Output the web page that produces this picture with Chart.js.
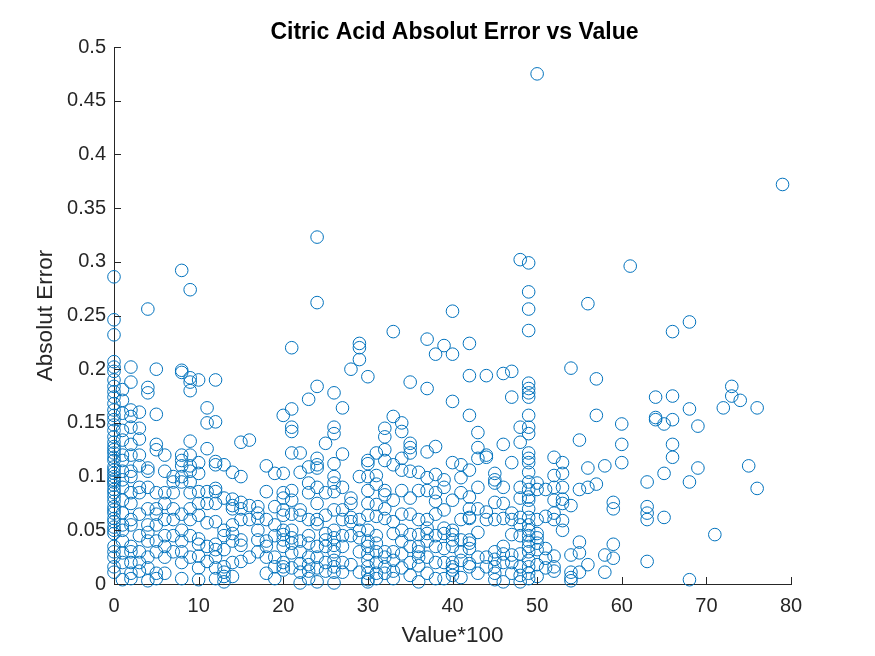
<!DOCTYPE html>
<html>
<head>
<meta charset="utf-8">
<title>Citric Acid Absolut Error vs Value</title>
<script src="https://cdn.jsdelivr.net/npm/chart.js@4/dist/chart.umd.min.js"></script>
<style>
    html, body { margin: 0; padding: 0; background: #fff; }
    canvas { display: block; }
</style>
</head>
<body>
<canvas id="chart" width="875" height="656"></canvas>
<script>
// ── Data ──────────────────────────────────────────────────────────────────────
const valueX = [0,1,2,3,4,5,6,7,8,9,10,11,12,13,14,15,16,17,18,19,20,21,22,23,24,25,26,27,28,29,
    30,31,32,33,34,35,36,37,38,39,40,41,42,43,44,45,46,47,48,49,50,51,52,53,54,55,56,57,58,59,60,61,
    63,64,65,66,68,69,71,72,73,74,75,76,79];

const absError = [
    [0.286,0.246,0.232,0.207,0.202,0.198,0.19,0.184,0.179,0.174,0.168,0.162,0.157,0.153,0.148,0.143,0.137,0.132,0.128,0.125,0.122,0.118,0.115,0.109,0.106,0.103,0.1,0.097,0.095,0.092,0.088,0.085,0.081,0.077,0.072,0.069,0.066,0.061,0.058,0.053,0.05,0.047,0.035,0.03,0.025,0.016,0.011],
    [0.181,0.171,0.159,0.143,0.134,0.12,0.115,0.105,0.097,0.09,0.078,0.066,0.055,0.05,0.04,0.029,0.02,0.004],
    [0.202,0.188,0.162,0.156,0.146,0.13,0.12,0.105,0.1,0.085,0.075,0.06,0.055,0.035,0.03,0.02,0.01,0.005],
    [0.16,0.145,0.135,0.12,0.11,0.09,0.085,0.065,0.045,0.03,0.02,0.012],
    [0.256,0.183,0.178,0.108,0.105,0.09,0.07,0.055,0.048,0.04,0.025,0.015,0.003],
    [0.2,0.158,0.13,0.125,0.085,0.07,0.065,0.055,0.04,0.03,0.01,0.005],
    [0.12,0.105,0.085,0.075,0.06,0.045,0.035,0.025,0.01],
    [0.1,0.095,0.085,0.07,0.06,0.045,0.03],
    [0.292,0.199,0.197,0.12,0.115,0.11,0.1,0.095,0.065,0.05,0.04,0.03,0.02,0.005],
    [0.274,0.192,0.188,0.18,0.133,0.12,0.11,0.105,0.095,0.085,0.07,0.06,0.045,0.025],
    [0.19,0.113,0.103,0.086,0.075,0.064,0.042,0.037,0.026,0.015,0.004],
    [0.164,0.15,0.126,0.086,0.075,0.057,0.035,0.021],
    [0.19,0.151,0.114,0.111,0.089,0.086,0.075,0.058,0.037,0.032,0.025,0.015,0.005],
    [0.111,0.08,0.05,0.045,0.032,0.016,0.011,0.007,0.002],
    [0.104,0.079,0.073,0.07,0.055,0.047,0.04,0.02,0.007],
    [0.132,0.1,0.076,0.07,0.06,0.041,0.036,0.021],
    [0.134,0.073,0.06,0.025],
    [0.072,0.066,0.061,0.05,0.041,0.03],
    [0.11,0.086,0.06,0.04,0.035,0.025,0.01],
    [0.103,0.072,0.055,0.045,0.025,0.016,0.005],
    [0.157,0.103,0.085,0.08,0.069,0.064,0.05,0.046,0.041,0.035,0.02,0.016,0.013],
    [0.22,0.163,0.146,0.142,0.122,0.087,0.078,0.065,0.05,0.043,0.038,0.029,0.015],
    [0.122,0.104,0.069,0.064,0.04,0.03,0.019,0.011,0.001],
    [0.172,0.109,0.094,0.085,0.06,0.045,0.038,0.025,0.018,0.012,0.005],
    [0.323,0.262,0.184,0.117,0.111,0.108,0.09,0.075,0.06,0.056,0.035,0.025,0.015,0.002],
    [0.131,0.085,0.064,0.047,0.041,0.035,0.02,0.012],
    [0.178,0.146,0.14,0.112,0.1,0.094,0.086,0.069,0.05,0.043,0.036,0.03,0.022,0.016,0.011,0.001],
    [0.164,0.121,0.09,0.069,0.06,0.045,0.035,0.02,0.011],
    [0.2,0.08,0.075,0.062,0.058,0.045,0.018],
    [0.224,0.22,0.209,0.1,0.06,0.05,0.043,0.03,0.011],
    [0.193,0.115,0.112,0.1,0.087,0.075,0.064,0.05,0.04,0.035,0.028,0.022,0.016,0.01,0.004,0.002],
    [0.122,0.101,0.093,0.074,0.063,0.045,0.038,0.03,0.02,0.01,0.005],
    [0.145,0.137,0.125,0.115,0.087,0.083,0.07,0.061,0.03,0.025,0.016,0.01],
    [0.235,0.156,0.111,0.078,0.058,0.047,0.03,0.022,0.012,0.005],
    [0.15,0.142,0.117,0.106,0.087,0.065,0.05,0.04,0.028,0.015],
    [0.188,0.131,0.127,0.122,0.105,0.08,0.065,0.046,0.035,0.02,0.008],
    [0.104,0.087,0.06,0.046,0.035,0.03,0.025,0.017,0.002],
    [0.228,0.182,0.123,0.099,0.087,0.06,0.052,0.047,0.04,0.025,0.01],
    [0.214,0.128,0.102,0.085,0.077,0.065,0.045,0.035,0.02,0.005],
    [0.222,0.097,0.09,0.069,0.052,0.047,0.033,0.02,0.005],
    [0.254,0.214,0.17,0.113,0.078,0.05,0.046,0.041,0.035,0.02,0.016,0.013,0.008],
    [0.111,0.099,0.085,0.06,0.041,0.03,0.022,0.006],
    [0.224,0.194,0.157,0.106,0.081,0.07,0.062,0.061,0.041,0.038,0.033,0.019,0.016],
    [0.141,0.127,0.117,0.09,0.07,0.048,0.025,0.01],
    [0.194,0.12,0.118,0.067,0.06,0.025,0.016],
    [0.103,0.097,0.094,0.076,0.06,0.03,0.023,0.016,0.01,0.004],
    [0.196,0.13,0.09,0.075,0.061,0.035,0.028,0.02,0.002],
    [0.198,0.174,0.113,0.066,0.06,0.046,0.027,0.02,0.01],
    [0.302,0.146,0.132,0.09,0.08,0.062,0.055,0.045,0.028,0.016,0.008,0.002],
    [0.299,0.272,0.256,0.236,0.187,0.182,0.178,0.174,0.157,0.146,0.14,0.122,0.117,0.113,0.104,0.095,0.088,0.081,0.078,0.07,0.062,0.055,0.05,0.045,0.04,0.035,0.03,0.022,0.016,0.01,0.005],
    [0.475,0.094,0.088,0.06,0.047,0.043,0.038,0.032,0.018,0.007],
    [0.088,0.063,0.033,0.024,0.015],
    [0.118,0.101,0.09,0.078,0.066,0.06,0.026,0.016,0.012],
    [0.113,0.103,0.09,0.079,0.075,0.059,0.05],
    [0.201,0.073,0.027,0.011,0.006,0.003],
    [0.134,0.088,0.039,0.029,0.011],
    [0.261,0.108,0.09,0.018],
    [0.191,0.157,0.093],
    [0.11,0.027,0.011],
    [0.076,0.07,0.037,0.024],
    [0.149,0.13,0.113],
    [0.296],
    [0.095,0.072,0.066,0.06,0.021],
    [0.174,0.155,0.153],
    [0.149,0.103,0.062],
    [0.235,0.175,0.153,0.13,0.118],
    [0.244,0.163,0.095,0.004],
    [0.147,0.108],
    [0.046],
    [0.164],
    [0.184,0.175],
    [0.171],
    [0.11],
    [0.164,0.089],
    [0.372],
];

const xTicks = [0,10,20,30,40,50,60,70,80];
const yTicks = [0,0.05,0.1,0.15,0.2,0.25,0.3,0.35,0.4,0.45,0.5];

// ── Style ─────────────────────────────────────────────────────────────────────
const BLUE = '#0072BD';
const AX   = '#262626';
const FONT = "'Liberation Sans', Arial, Helvetica, sans-serif";

const points = valueX.flatMap((x, i) => absError[i].map(y => ({ x, y })));

// MATLAB-style inward tick marks + title centred over the axes
const matlabAxes = {
    id: 'matlabAxes',
    afterDraw(chart) {
        const { ctx, chartArea: a, scales: { x, y } } = chart;
        ctx.save();
        ctx.strokeStyle = AX; ctx.lineWidth = 1;
        ctx.beginPath();
        xTicks.forEach(v => {
            const px = Math.round(x.getPixelForValue(v)) + 0.5;
            ctx.moveTo(px, a.bottom); ctx.lineTo(px, a.bottom - 7);
        });
        yTicks.forEach(v => {
            const py = Math.round(y.getPixelForValue(v)) + 0.5;
            ctx.moveTo(a.left, py); ctx.lineTo(a.left + 7, py);
        });
        ctx.stroke();
        ctx.fillStyle = '#000';
        ctx.font = `bold 23px ${FONT}`;
        ctx.textAlign = 'center'; ctx.textBaseline = 'middle';
        ctx.fillText('Citric Acid Absolut Error vs Value', (a.left + a.right) / 2 + 2, 33);
        ctx.restore();
    }
};

new Chart(document.getElementById('chart'), {
    type: 'scatter',
    data: {
        datasets: [{
            data: points,
            pointStyle: 'circle',
            pointRadius: 6.3,
            pointBorderWidth: 1,
            pointBorderColor: BLUE,
            pointBackgroundColor: 'rgba(0,0,0,0)',
            clip: false,
        }]
    },
    options: {
        responsive: false, animation: false,
        layout: { padding: { top: 47, right: 84, bottom: 0, left: 0 } },
        plugins: { legend: { display: false }, tooltip: { enabled: false } },
        scales: {
            x: {
                type: 'linear', min: 0, max: 80,
                afterBuildTicks: s => { s.ticks = xTicks.map(value => ({ value })); },
                afterFit: s => { s.height = 72; },
                grid: { display: false, drawTicks: false },
                border: { color: AX, width: 1 },
                ticks: { color: AX, font: { family: FONT, size: 20 }, padding: 10, maxRotation: 0 },
                title: { display: true, text: 'Value*100', color: AX,
                         font: { family: FONT, size: 22.5 }, padding: { top: 0, bottom: 7 } }
            },
            y: {
                type: 'linear', min: 0, max: 0.5,
                afterBuildTicks: s => { s.ticks = yTicks.map(value => ({ value })); },
                afterFit: s => { s.width = 114; },
                grid: { display: false, drawTicks: false },
                border: { color: AX, width: 1 },
                ticks: { color: AX, font: { family: FONT, size: 20 }, padding: 8,
                         callback: v => String(+v.toFixed(2)) },
                title: { display: true, text: 'Absolut Error', color: AX,
                         font: { family: FONT, size: 22.5 }, padding: { top: 32, bottom: 0 } }
            }
        }
    },
    plugins: [matlabAxes]
});
</script>
</body>
</html>
